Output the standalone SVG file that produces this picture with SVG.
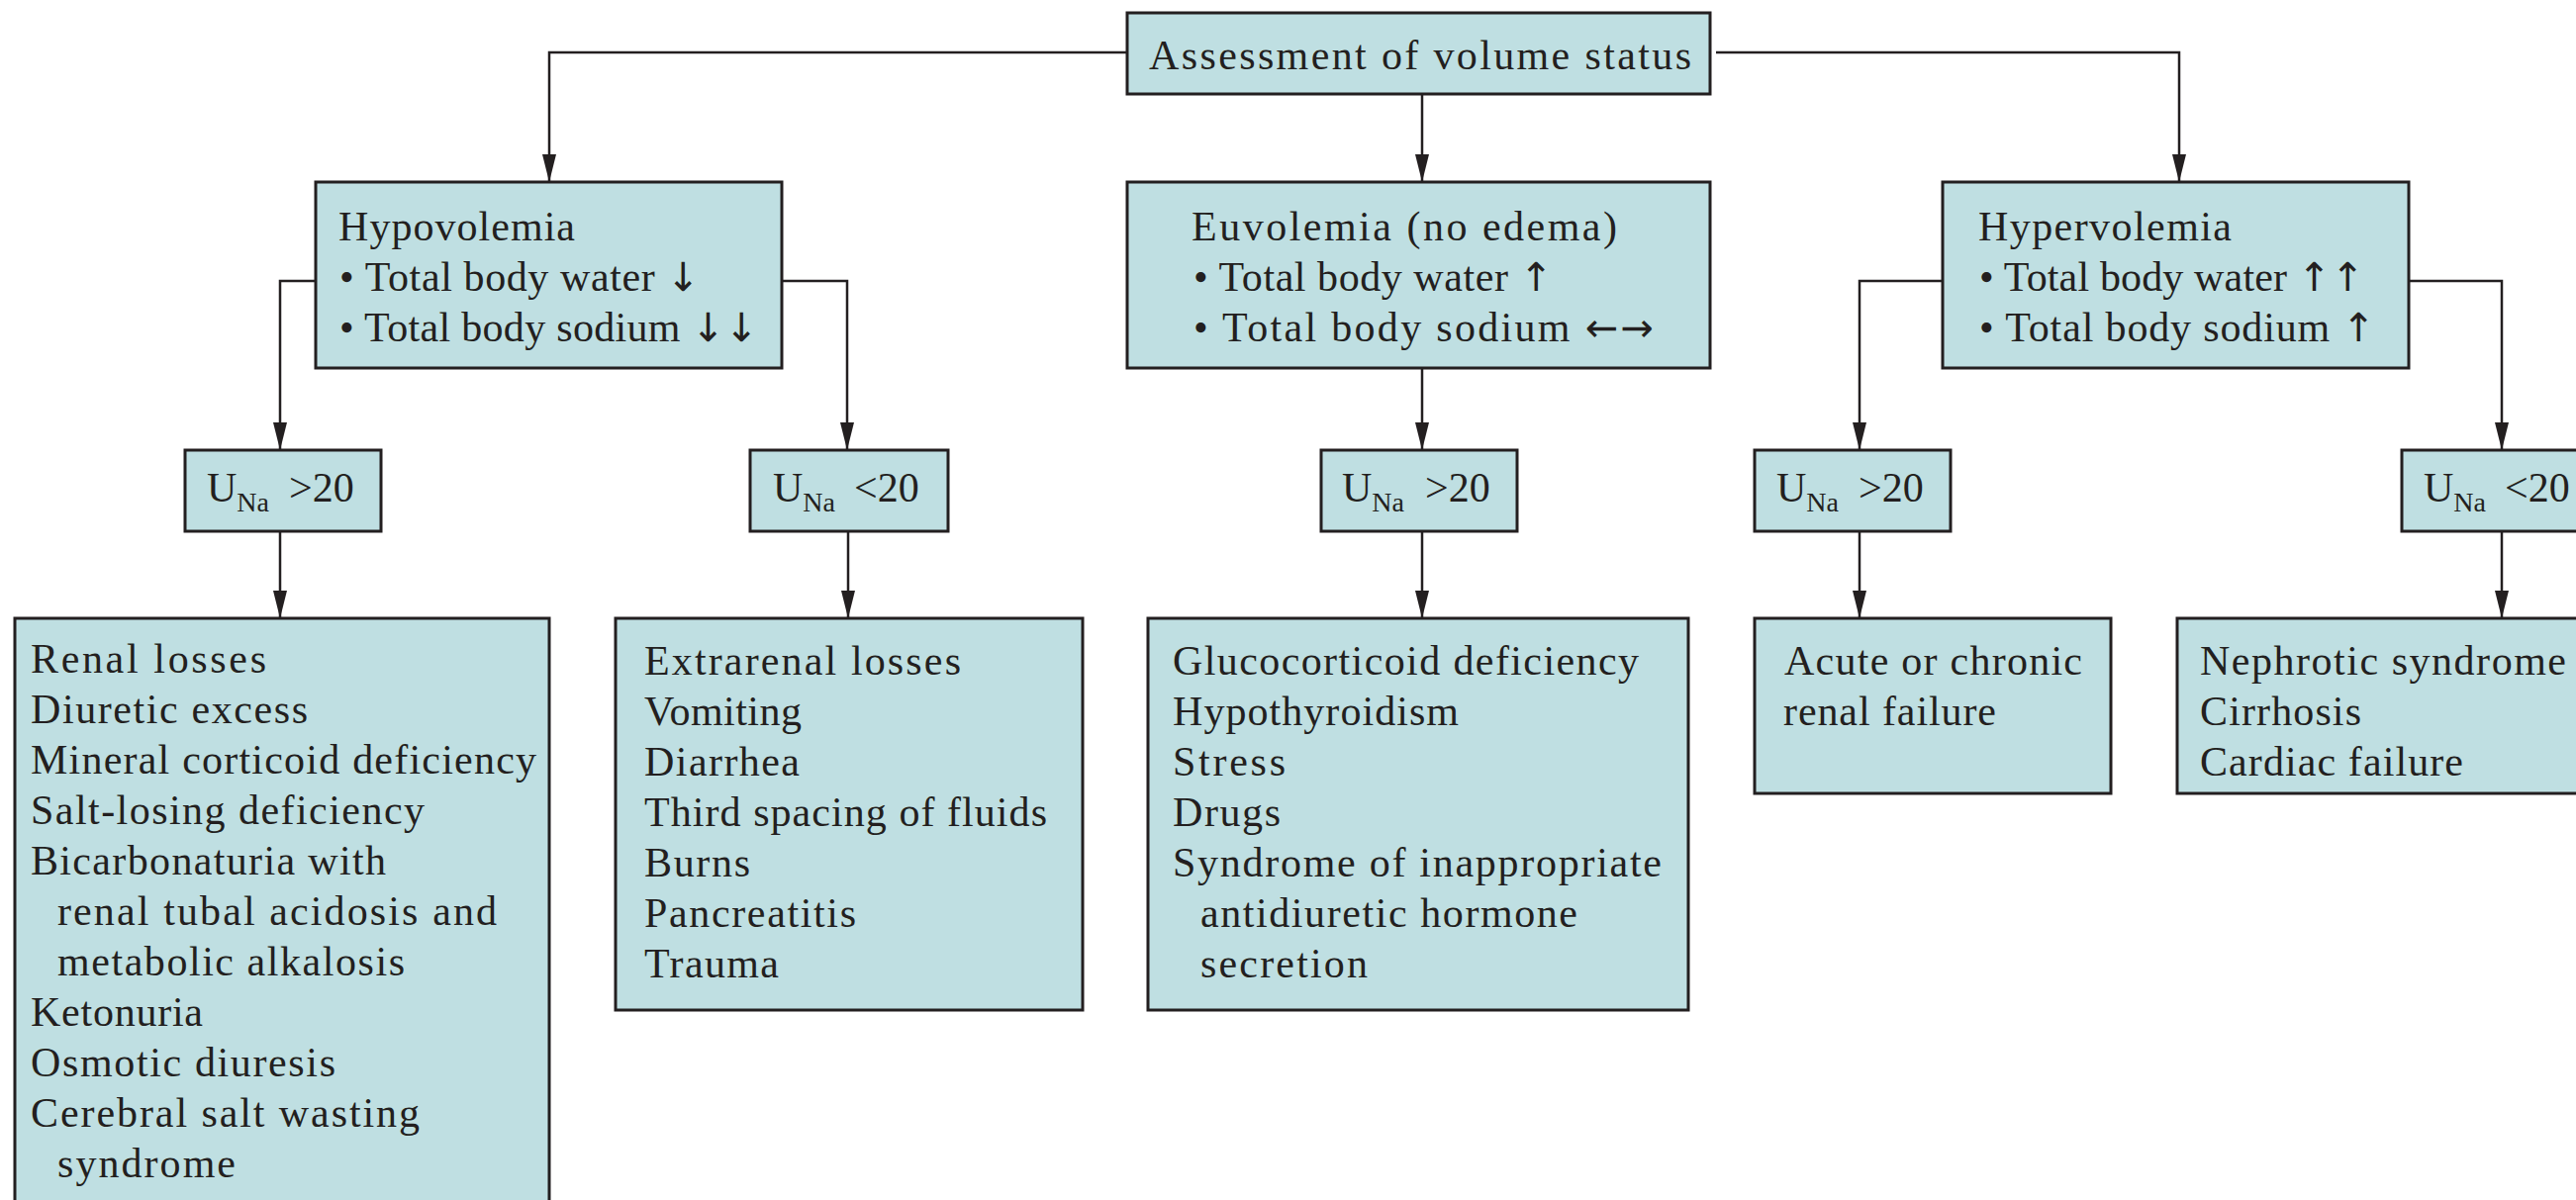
<svg xmlns="http://www.w3.org/2000/svg" width="2603" height="1213" viewBox="0 0 2603 1213">
  <style>
    .box { fill: #bfdfe2; stroke: #231f20; stroke-width: 3; }
    .t { font-family: "Liberation Serif", "Times New Roman", serif; font-size: 42px; fill: #231f20; }
    .sub { font-size: 28px; }
    .ar { font-family: "DejaVu Sans", sans-serif; font-size: 40px; }
    .wire { fill: none; stroke: #231f20; stroke-width: 2.5; }
    .arr { marker-end: url(#head); }
  </style>
  <defs>
    <marker id="head" markerUnits="userSpaceOnUse" markerWidth="28" markerHeight="14" refX="28" refY="7" orient="auto">
      <path d="M0,0 L28,7 L0,14 z" fill="#231f20"/>
    </marker>
  </defs>
  <rect width="2603" height="1213" fill="#ffffff"/>

  <!-- connectors -->
  <g id="connectors">
    <path class="wire arr" d="M1139,53 H555 V184"/>
    <path class="wire arr" d="M1734,53 H2202 V184"/>
    <path class="wire arr" d="M1437,95 V184"/>
    <path class="wire arr" d="M319,284 H283 V455"/>
    <path class="wire arr" d="M790,284 H856 V455"/>
    <path class="wire arr" d="M1437,372 V455"/>
    <path class="wire arr" d="M1963,284 H1879 V455"/>
    <path class="wire arr" d="M2434,284 H2528 V455"/>
    <path class="wire arr" d="M283,537 V625"/>
    <path class="wire arr" d="M857,537 V625"/>
    <path class="wire arr" d="M1437,537 V625"/>
    <path class="wire arr" d="M1879,537 V625"/>
    <path class="wire arr" d="M2528,537 V625"/>
  </g>

  <!-- root -->
  <g id="assessment">
    <rect class="box" x="1139" y="13" width="589" height="82"/>
    <text class="t" x="1161" y="70" textLength="548">Assessment of volume status</text>
  </g>

  <!-- volume states -->
  <g id="hypovolemia">
    <rect class="box" x="319" y="184" width="471" height="188"/>
    <text class="t" x="342" y="243" textLength="239">Hypovolemia</text>
    <text class="t" x="343" y="294" textLength="364">• Total body water <tspan class="ar">↓</tspan></text>
    <text class="t" x="343" y="345" textLength="423">• Total body sodium <tspan class="ar">↓↓</tspan></text>
  </g>
  <g id="euvolemia">
    <rect class="box" x="1139" y="184" width="589" height="188"/>
    <text class="t" x="1204" y="243" textLength="430">Euvolemia (no edema)</text>
    <text class="t" x="1206" y="294" textLength="363">• Total body water <tspan class="ar">↑</tspan></text>
    <text class="t" x="1206" y="345" textLength="465">• Total body sodium <tspan class="ar">←→</tspan></text>
  </g>
  <g id="hypervolemia">
    <rect class="box" x="1963" y="184" width="471" height="188"/>
    <text class="t" x="1999" y="243" textLength="256">Hypervolemia</text>
    <text class="t" x="2000" y="294" textLength="389">• Total body water <tspan class="ar">↑↑</tspan></text>
    <text class="t" x="2000" y="345" textLength="400">• Total body sodium <tspan class="ar">↑</tspan></text>
  </g>

  <!-- urine sodium splits -->
  <g id="una-hypo-high">
    <rect class="box" x="187" y="455" width="198" height="82"/>
    <text class="t" x="209" y="507">U<tspan class="sub" dy="10">Na</tspan><tspan x="292" dy="-10">&gt;20</tspan></text>
  </g>
  <g id="una-hypo-low">
    <rect class="box" x="758" y="455" width="200" height="82"/>
    <text class="t" x="781" y="507">U<tspan class="sub" dy="10">Na</tspan><tspan x="863" dy="-10">&lt;20</tspan></text>
  </g>
  <g id="una-euvo-high">
    <rect class="box" x="1335" y="455" width="198" height="82"/>
    <text class="t" x="1356" y="507">U<tspan class="sub" dy="10">Na</tspan><tspan x="1440" dy="-10">&gt;20</tspan></text>
  </g>
  <g id="una-hyper-high">
    <rect class="box" x="1773" y="455" width="198" height="82"/>
    <text class="t" x="1795" y="507">U<tspan class="sub" dy="10">Na</tspan><tspan x="1878" dy="-10">&gt;20</tspan></text>
  </g>
  <g id="una-hyper-low">
    <rect class="box" x="2427" y="455" width="200" height="82"/>
    <text class="t" x="2449" y="507">U<tspan class="sub" dy="10">Na</tspan><tspan x="2531" dy="-10">&lt;20</tspan></text>
  </g>

  <!-- causes -->
  <g id="renal-losses">
    <rect class="box" x="15" y="625" width="540" height="620"/>
    <text class="t" x="31" y="680" textLength="238">Renal losses</text>
    <text class="t" x="31" y="731" textLength="280">Diuretic excess</text>
    <text class="t" x="31" y="782" textLength="511">Mineral corticoid deficiency</text>
    <text class="t" x="31" y="833" textLength="398">Salt-losing deficiency</text>
    <text class="t" x="31" y="884" textLength="359">Bicarbonaturia with</text>
    <text class="t" x="58" y="935" textLength="444">renal tubal acidosis and</text>
    <text class="t" x="58" y="986" textLength="351">metabolic alkalosis</text>
    <text class="t" x="31" y="1037" textLength="174">Ketonuria</text>
    <text class="t" x="31" y="1088" textLength="308">Osmotic diuresis</text>
    <text class="t" x="31" y="1139" textLength="393">Cerebral salt wasting</text>
    <text class="t" x="58" y="1190" textLength="180">syndrome</text>
  </g>
  <g id="extrarenal-losses">
    <rect class="box" x="622" y="625" width="472" height="396"/>
    <text class="t" x="651" y="682" textLength="320">Extrarenal losses</text>
    <text class="t" x="651" y="733" textLength="159">Vomiting</text>
    <text class="t" x="651" y="784" textLength="157">Diarrhea</text>
    <text class="t" x="651" y="835" textLength="407">Third spacing of fluids</text>
    <text class="t" x="651" y="886" textLength="107">Burns</text>
    <text class="t" x="651" y="937" textLength="214">Pancreatitis</text>
    <text class="t" x="651" y="988" textLength="136">Trauma</text>
  </g>
  <g id="euvolemic-causes">
    <rect class="box" x="1160" y="625" width="546" height="396"/>
    <text class="t" x="1185" y="682" textLength="471">Glucocorticoid deficiency</text>
    <text class="t" x="1185" y="733" textLength="289">Hypothyroidism</text>
    <text class="t" x="1185" y="784" textLength="114">Stress</text>
    <text class="t" x="1185" y="835" textLength="109">Drugs</text>
    <text class="t" x="1185" y="886" textLength="494">Syndrome of inappropriate</text>
    <text class="t" x="1213" y="937" textLength="381">antidiuretic hormone</text>
    <text class="t" x="1213" y="988" textLength="169">secretion</text>
  </g>
  <g id="renal-failure">
    <rect class="box" x="1773" y="625" width="360" height="177"/>
    <text class="t" x="1803" y="682" textLength="301">Acute or chronic</text>
    <text class="t" x="1802" y="733" textLength="215">renal failure</text>
  </g>
  <g id="edematous-states">
    <rect class="box" x="2200" y="625" width="420" height="177"/>
    <text class="t" x="2223" y="682" textLength="370">Nephrotic syndrome</text>
    <text class="t" x="2223" y="733" textLength="163">Cirrhosis</text>
    <text class="t" x="2223" y="784" textLength="266">Cardiac failure</text>
  </g>
</svg>
